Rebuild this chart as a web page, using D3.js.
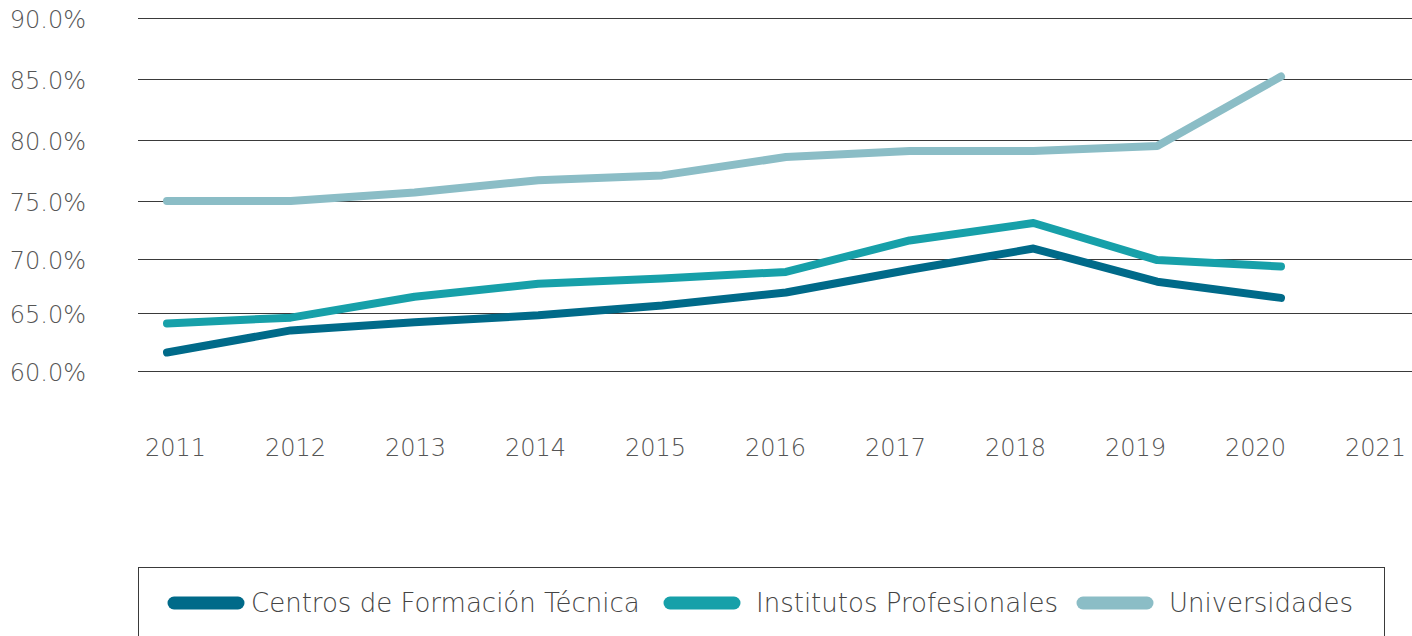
<!DOCTYPE html>
<meta charset="utf-8">
<script src="https://cdn.jsdelivr.net/npm/d3@7"></script>
<style type="text/css">
    body { margin: 0; background: #fff; }
    .lbl {
        font-family: "DejaVu Sans", sans-serif;
        font-weight: 200;
        font-size: 24px;
        fill: #555;
    }
    .leg {
        font-family: "DejaVu Sans", sans-serif;
        font-weight: 200;
        font-size: 26px;
        fill: #444;
    }
</style>
<body>
<script type="text/javascript">
    // data
    var years = [2011, 2012, 2013, 2014, 2015, 2016, 2017, 2018, 2019, 2020];
    var axisYears = [2011, 2012, 2013, 2014, 2015, 2016, 2017, 2018, 2019, 2020, 2021];
    var yTicks = [60, 65, 70, 75, 80, 85, 90];

    var cft = [61.6, 63.5, 64.2, 64.8, 65.7, 66.9, 69.0, 70.9, 67.9, 66.4];
    var ip = [64.1, 64.6, 66.5, 67.7, 68.2, 68.8, 71.6, 73.1, 69.9, 69.3];
    var univ = [75.0, 75.0, 75.7, 76.7, 77.1, 78.6, 79.1, 79.1, 79.5, 85.2];

    var seriesNames = ["Centros de Formación Técnica", "Institutos Profesionales", "Universidades"];
    var seriesColors = ["#006a89", "#17a0a9", "#8bbdc6"];
    var seriesValues = [cft, ip, univ];

    var width = 1412, height = 636;

    var svg = d3.select("body").append("svg")
        .attr("width", width)
        .attr("height", height);

    var xScale = d3.scaleLinear().domain([2011, 2020]).range([167, 1281]);
    var xLabels = d3.scalePoint().domain(axisYears).range([175, 1375]);
    // the original grid is not evenly spaced, so map each tick to its row
    var yScale = d3.scaleLinear()
        .domain(yTicks)
        .range([371, 313, 259, 201, 140, 79, 18]);

    // grid lines
    svg.append("g")
        .selectAll("line")
        .data(yTicks)
        .enter().append("line")
        .attr("x1", 138)
        .attr("x2", width)
        .attr("y1", function (d) { return Math.round(yScale(d)) + 0.5; })
        .attr("y2", function (d) { return Math.round(yScale(d)) + 0.5; })
        .style("stroke", "#3a3a3a")
        .style("stroke-width", 1);

    // y labels
    svg.append("g")
        .selectAll("text")
        .data(yTicks)
        .enter().append("text")
        .attr("class", "lbl")
        .attr("x", 86)
        .attr("y", function (d) { return yScale(d); })
        .attr("dy", "0.42em")
        .style("text-anchor", "end")
        .text(function (d) { return d.toFixed(1) + "%"; });

    // x axis labels
    var xAxis = svg.append("g")
        .attr("transform", "translate(0,439)")
        .call(d3.axisBottom(xLabels).tickSize(0).tickPadding(0).tickFormat(String));
    xAxis.select(".domain").remove();
    xAxis.selectAll("text")
        .attr("class", "lbl")
        .attr("font-family", null)
        .attr("font-size", null)
        .attr("fill", null)
        .attr("dy", "0.71em");

    var line = d3.line()
        .x(function (d, i) { return xScale(years[i]); })
        .y(function (d) { return yScale(d); });

    svg.append("g")
        .selectAll("path")
        .data(seriesValues)
        .enter().append("path")
        .attr("d", line)
        .style("fill", "none")
        .style("stroke", function (d, i) { return seriesColors[i]; })
        .style("stroke-width", 8)
        .style("stroke-linecap", "round")
        .style("stroke-linejoin", "round");

    // legend
    svg.append("rect")
        .attr("x", 138.5)
        .attr("y", 567.5)
        .attr("width", 1246)
        .attr("height", 100)
        .style("fill", "none")
        .style("stroke", "#3a3a3a")
        .style("stroke-width", 1);

    var legendX = [168, 664, 1077];
    var legend = svg.selectAll(".legend")
        .data(seriesNames)
        .enter().append("g")
        .attr("class", "legend")
        .attr("transform", function (d, i) { return "translate(" + legendX[i] + ",603)"; });

    legend.append("line")
        .attr("x1", 6)
        .attr("x2", 70)
        .style("stroke", function (d, i) { return seriesColors[i]; })
        .style("stroke-width", 13)
        .style("stroke-linecap", "round");

    legend.append("text")
        .attr("class", "leg")
        .attr("x", function (d, i) { return i == 0 ? 83 : 92; })
        .attr("dy", "0.36em")
        .text(String);
</script>
</body>
</html>
